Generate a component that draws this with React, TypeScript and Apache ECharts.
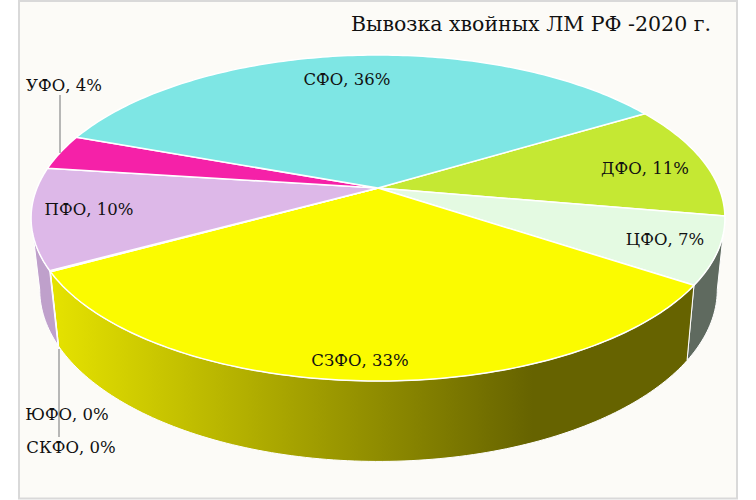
import React, { useEffect, useRef } from "react";
import * as echarts from "echarts";

const chartTitle = "Вывозка хвойных ЛМ РФ -2020 г.";
const categories = ["ДФО", "ЦФО", "СЗФО", "ЮФО", "СКФО", "ПФО", "УФО", "СФО"];
const shares = [11.4, 6.6, 32.6, 0.05, 0.05, 10.0, 3.5, 35.8];
const topColors = ["#C5E833", "#E4FAE2", "#FBFB00", "#C0A0CC", "#C0A0CC", "#DDB8E8", "#F521A8", "#7EE6E4"];
const sideColors = ["#6C7D2A", "#5F6A5F", "#666300", "#BFA0CB", "#BFA0CB", "#BFA0CB", "#A0146E", "#4F9A98"];
const labelCentres = [[645, 168], [665, 239], [360, 360], [67, 414], [71, 447], [89, 209], [64, 85], [347, 79]];
const leaderLines = [[[60, 95], [60, 153]], [[59, 349], [59, 437]]];

const START = 58.9;
const SIDE_FROM = 100.6;
const SIDE_TO = 259.4;
const FONT = "DejaVu Serif";
const TOP = { cx: 378, cy: 188, a: 341, b: 157.5, p: 0.184 };
const BOTTOM = { cx: 378.5, cy: 258, a: 333, b: 166, p: 0.184 };

function project(g: typeof TOP, deg: number): number[] {
  const t = (deg * Math.PI) / 180;
  const u = Math.sin(t);
  const v = -Math.cos(t);
  const w = 1 - g.p * v;
  return [g.cx + (g.a * u) / w, g.cy + (g.b * v) / w];
}

function arc(g: typeof TOP, from: number, to: number): number[][] {
  const pts: number[][] = [];
  const n = Math.max(1, Math.ceil(Math.abs(to - from)));
  for (let i = 0; i <= n; i++) pts.push(project(g, from + ((to - from) * i) / n));
  return pts;
}

function sliceAngles(): number[][] {
  const total = shares.reduce((s, x) => s + x, 0);
  let a = START;
  return shares.map((s) => {
    const from = a;
    a += (s / total) * 360;
    return [from, a];
  });
}

export default function App() {
  const ref = useRef<HTMLDivElement>(null);
  useEffect(() => {
    document.body.style.margin = "0";
    const chart = echarts.init(ref.current!, undefined, { renderer: "svg" });
    const angles = sliceAngles();
    const data = shares.map((v, i) => ({ name: categories[i], value: [i, v] }));
    const noAxis = { coordinateSystem: "none" as const, silent: true };
    chart.setOption({
      animation: false,
      backgroundColor: "#fff",
      title: {
        text: chartTitle,
        left: 346,
        top: 8,
        textStyle: { fontFamily: FONT, fontWeight: "normal", fontSize: 20.5, color: "#111" },
      },
      graphic: [
        {
          type: "rect",
          z: -10,
          shape: { x: 19, y: 1, width: 718, height: 497.5 },
          style: { fill: "#FCFBF7", stroke: "#D9D9D9", lineWidth: 2 },
        },
      ],
      series: [
        {
          ...noAxis,
          type: "custom",
          z: 2,
          data,
          renderItem: (params: any) => {
            const i = params.dataIndex;
            const from = Math.max(angles[i][0], SIDE_FROM);
            const to = Math.min(angles[i][1], SIDE_TO);
            if (to <= from) return { type: "group", children: [] };
            const pts = [...arc(TOP, from, to), ...arc(BOTTOM, to, from)];
            const isMain = categories[i] === "СЗФО";
            const fill = isMain
              ? new echarts.graphic.LinearGradient(0, 0, 1, 0, [
                  { offset: 0, color: "#E6E300" },
                  { offset: 0.75, color: "#666300" },
                  { offset: 1, color: "#666300" },
                ])
              : sideColors[i];
            return {
              type: "polygon",
              shape: { points: pts },
              style: { fill, stroke: "#fff", lineWidth: 1 },
            };
          },
        },
        {
          ...noAxis,
          type: "custom",
          z: 3,
          data,
          renderItem: (params: any) => {
            const i = params.dataIndex;
            const pts = [[TOP.cx, TOP.cy], ...arc(TOP, angles[i][0], angles[i][1])];
            return {
              type: "polygon",
              shape: { points: pts },
              style: { fill: topColors[i], stroke: "#fff", lineWidth: 1.5, lineJoin: "round" },
            };
          },
        },
        {
          ...noAxis,
          type: "custom",
          z: 4,
          data: leaderLines.map((_, i) => [i]),
          renderItem: (params: any) => {
            const l = leaderLines[params.dataIndex];
            return {
              type: "line",
              shape: { x1: l[0][0], y1: l[0][1], x2: l[1][0], y2: l[1][1] },
              style: { stroke: "#A0A0A0", lineWidth: 1.5 },
            };
          },
        },
        {
          ...noAxis,
          type: "custom",
          z: 5,
          data,
          renderItem: (params: any) => {
            const i = params.dataIndex;
            return {
              type: "text",
              x: labelCentres[i][0],
              y: labelCentres[i][1],
              style: {
                text: `${categories[i]}, ${Math.round(shares[i])}%`,
                fontFamily: FONT,
                fontSize: 16.5,
                fill: "#111",
                align: "center",
                verticalAlign: "middle",
              },
            };
          },
        },
      ],
    });
    return () => chart.dispose();
  }, []);
  return <div ref={ref} style={{ width: 756, height: 500 }} />;
}
